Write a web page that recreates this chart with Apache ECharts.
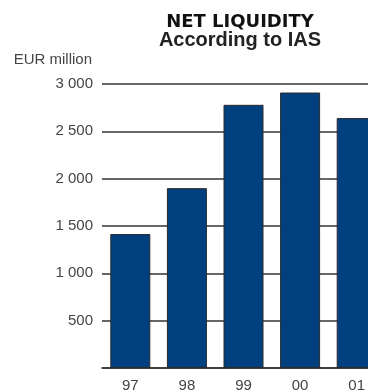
<!DOCTYPE html>
<html>
<head>
<meta charset="utf-8">
<script src="https://cdn.jsdelivr.net/npm/echarts@6/dist/echarts.min.js"></script>
<style>
  html, body { margin: 0; padding: 0; background: #fff; overflow: hidden; }
  /* the plot runs on past the right edge of the page, so the last bar is cut off */
  #chart { width: 385px; height: 390px; }
</style>
</head>
<body>
<div id="chart"></div>
<script>
// Net liquidity by year, EUR million
const years = ['97', '98', '99', '00', '01'];
const netLiquidity = [1415, 1900, 2780, 2910, 2640];
const yTicks = [0, 500, 1000, 1500, 2000, 2500, 3000];

const labelFont = '"Liberation Sans", Arial, sans-serif';
const fmt = v => String(v).replace(/\B(?=(\d{3})+(?!\d))/g, ' ');

const chart = echarts.init(document.getElementById('chart'), null, { renderer: 'canvas' });
chart.setOption({
  animation: false,
  backgroundColor: '#ffffff',
  grid: { left: 102, right: 0, top: 84, bottom: 22, containLabel: false, outerBoundsMode: 'none' },
  graphic: [
    {
      type: 'text', x: 240, y: 22,
      style: {
        text: 'NET LIQUIDITY', fill: '#111',
        font: 'bold 18px "DejaVu Sans", sans-serif',
        align: 'center', verticalAlign: 'middle'
      }
    },
    {
      type: 'text', x: 240, y: 40,
      style: {
        text: 'According to IAS', fill: '#222',
        font: 'bold 20px "Liberation Sans", Arial, sans-serif',
        align: 'center', verticalAlign: 'middle'
      }
    }
  ],
  xAxis: {
    type: 'category',
    data: years,
    axisLine: { show: true, lineStyle: { color: '#333', width: 1.5 } },
    axisTick: { show: false },
    axisLabel: { color: '#444', fontSize: 15, fontFamily: labelFont, margin: 10 }
  },
  yAxis: {
    type: 'value',
    min: yTicks[0],
    max: yTicks[yTicks.length - 1],
    interval: yTicks[1] - yTicks[0],
    name: 'EUR million',
    nameLocation: 'end',
    nameGap: 17,
    nameTextStyle: { color: '#444', fontSize: 15, fontFamily: labelFont, align: 'right', padding: [0, 10, 0, 0] },
    axisLine: { show: false },
    axisTick: { show: false },
    splitLine: { show: true, lineStyle: { color: '#333', width: 1.5 } },
    axisLabel: {
      color: '#444', fontSize: 15, fontFamily: labelFont, margin: 9,
      showMinLabel: false,
      formatter: v => (v === 0 ? '' : fmt(v))
    }
  },
  series: [{
    type: 'bar',
    data: netLiquidity,
    barWidth: 40,
    itemStyle: { color: '#00407f', borderColor: '#2a2a2a', borderWidth: 1 }
  }]
});
</script>
</body>
</html>
